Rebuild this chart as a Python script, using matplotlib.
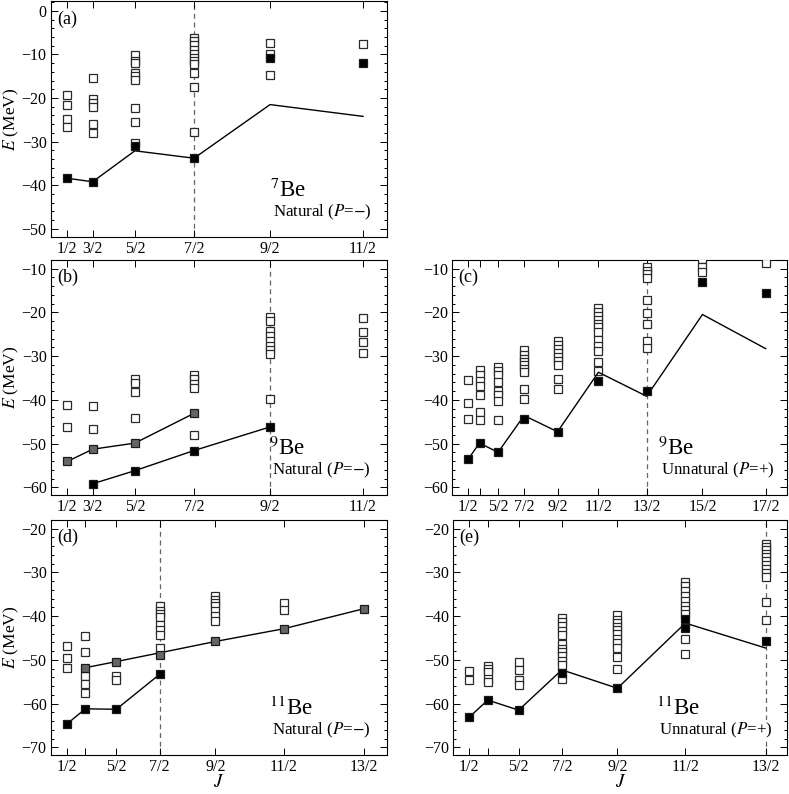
import numpy as np
import matplotlib
matplotlib.use('Agg')
import matplotlib.pyplot as plt
from matplotlib.ticker import MultipleLocator, NullLocator

plt.rcParams['font.family'] = ['Liberation Serif', 'DejaVu Serif']
plt.rcParams['mathtext.fontset'] = 'stix'

# ---- data (E in MeV), columns are spin J ----
# (a) 7Be natural parity
a_J = [0.5, 1.5, 2.5, 3.5, 4.5, 5.5]
a_open = [[-19.3, -21.6, -24.9, -26.6],
          [-15.5, -20.3, -21.2, -22.0, -26.0, -28.1],
          [-10.2, -11.5, -11.9, -14.2, -15.0, -15.9, -22.2, -25.6, -30.4],
          [-6.3, -6.9, -7.9, -8.9, -9.8, -10.7, -11.5, -12.1, -14.2, -17.4, -27.9],
          [-7.3, -9.8, -14.6],
          [-7.7]]
a_filled = [-38.4, -39.2, -31.1, -33.8, -10.7, -12.0]
a_line = [-38.4, -39.2, -32.1, -33.8, -21.5, -24.2]

# (b) 9Be natural parity
b_J = [0.5, 1.5, 2.5, 3.5, 4.5, 5.5]
b_open = [[-41.1, -46.2],
          [-41.5, -46.7],
          [-35.2, -36.2, -38.2, -44.2],
          [-34.3, -35.3, -36.3, -37.3, -48.0],
          [-21.0, -21.9, -24.2, -25.5, -26.6, -27.6, -28.6, -29.5, -39.9],
          [-21.3, -24.5, -26.8, -29.3]]
b_gray_J = [0.5, 1.5, 2.5, 3.5]
b_gray = [-54.1, -51.3, -49.9, -43.1]
b_black_J = [1.5, 2.5, 3.5, 4.5]
b_black = [-59.2, -56.2, -51.6, -46.2]

# (c) 9Be unnatural parity
c_J = [0.5, 1.5, 2.5, 3.5, 4.5, 5.5, 6.5, 7.5, 8.5]
c_open = [[-35.4, -40.8, -44.4],
          [-33.1, -34.4, -35.6, -36.9, -38.9, -42.8, -44.7],
          [-32.5, -33.5, -34.4, -36.0, -38.1, -39.0, -40.2, -44.7],
          [-28.7, -29.8, -30.7, -31.4, -32.1, -32.9, -33.7, -37.6, -39.8],
          [-26.5, -27.4, -28.3, -29.3, -30.2, -31.2, -32.1, -35.2, -37.5],
          [-19.0, -19.9, -20.8, -21.7, -22.6, -23.4, -24.5, -26.3, -27.6, -28.8, -31.4, -33.5],
          [-9.7, -10.5, -11.3, -12.1, -17.1, -20.2, -22.6, -26.6, -28.2],
          [-7.9, -9.7, -10.8],
          [-8.7]]
c_filled = [-53.5, -49.9, -52.0, -44.4, -47.3, -35.6, -37.9, -13.1, -15.6]
c_line = [-53.5, -49.9, -52.0, -43.6, -47.3, -33.7, -39.2, -20.5, -28.3]

# (d) 11Be natural parity
d_J = [0.5, 1.5, 2.5, 3.5, 4.5, 5.5]
d_open = [[-46.8, -49.6, -51.9],
          [-44.5, -48.1, -53.7, -55.6, -57.5],
          [-53.6, -54.7],
          [-37.8, -38.8, -39.5, -40.3, -42.0, -43.1, -44.3, -47.3],
          [-35.3, -36.3, -37.0, -37.8, -38.9, -39.9, -41.1],
          [-37.0, -38.5]]
d_gray_J = [1.5, 2.5, 3.5, 4.5, 5.5, 6.5]
d_gray = [-51.8, -50.4, -48.9, -45.6, -42.9, -38.3]
d_gray_line = [-51.8, -50.4, -48.4, -45.8, -42.9, -38.3]
d_black_J = [0.5, 1.5, 2.5, 3.5]
d_black = [-64.7, -61.2, -61.3, -53.3]

# (e) 11Be unnatural parity
e_J = [0.5, 1.5, 2.5, 3.5, 4.5, 5.5, 6.5]
e_open = [[-52.5, -54.6],
          [-51.3, -52.1, -52.8, -54.4, -55.1],
          [-50.5, -52.3, -54.7, -55.7],
          [-40.5, -41.4, -42.2, -43.4, -44.3, -46.4, -47.5, -48.2, -49.2, -50.2, -51.1, -54.4],
          [-39.8, -40.8, -41.6, -42.4, -43.1, -44.1, -45.2, -46.2, -47.2, -49.4, -52.1],
          [-32.2, -33.2, -34.2, -35.3, -36.5, -37.6, -38.5, -39.5, -45.2, -48.7],
          [-23.5, -24.3, -25.0, -25.8, -26.6, -27.5, -28.4, -29.2, -30.2, -31.1, -36.8, -40.8]]
e_filled_J = [0.5, 1.5, 2.5, 3.5, 4.5, 5.5, 5.5, 6.5]
e_filled = [-63.1, -59.2, -61.5, -52.9, -56.5, -40.6, -42.7, -45.8]
e_line = [-63.1, -59.2, -61.5, -52.3, -56.5, -41.6, -47.3]


# x axis is linear in J(J+1) = (J+1/2)^2 - 1/4
def fwd(j):
    s = np.asarray(j, float) + 0.5
    return np.sign(s) * s * s


def inv(x):
    x = np.asarray(x, float)
    return np.sign(x) * np.sqrt(np.abs(x)) - 0.5


def frac(j):
    return '%d/2' % int(round(2 * j))


def setup(ax, xlim, ylim, ticks, skip=(), ylabel=True, xlabel=False):
    ax.set_xscale('function', functions=(fwd, inv))
    ax.set_xlim(*xlim)
    ax.set_ylim(*ylim)
    ax.set_xticks(ticks)
    ax.set_xticklabels(['' if t in skip else frac(t) for t in ticks])
    ax.xaxis.set_minor_locator(NullLocator())
    ax.yaxis.set_major_locator(MultipleLocator(10))
    ax.yaxis.set_minor_locator(MultipleLocator(2))
    ax.tick_params(which='both', direction='in', top=True, right=True,
                   labelsize=11.5, width=0.7)
    ax.tick_params(which='major', length=5, pad=3)
    ax.tick_params(which='minor', length=2.5)
    for sp in ax.spines.values():
        sp.set_linewidth(0.8)
    if ylabel:
        ax.set_ylabel(r'$E$ (MeV)', fontsize=12.5)
        ax.yaxis.set_label_coords(-0.088, 0.5)
    if xlabel:
        ax.set_xlabel(r'$J$', fontsize=13.5, labelpad=-1)


def open_squares(ax, J, cols):
    xs = [j for j, vals in zip(J, cols) for _ in vals]
    ys = [v for vals in cols for v in vals]
    ax.plot(xs, ys, 's', mfc='white', mec='#2a2a2a', ms=5.4, mew=0.9, zorder=3)


def filled(ax, J, vals, face='black'):
    ax.plot(J, vals, 's', mfc=face, mec='#1a1a1a', ms=5.9, mew=0.9, zorder=5)


def line(ax, J, vals):
    ax.plot(J, vals, '-', color='black', lw=1.0, zorder=4)


def vdash(ax, j):
    ax.axvline(j, color='#666666', lw=0.9, ls=(0, (4, 3)), zorder=1)


def label(ax, tag, nucl, parity, x0, box=True):
    ax.text(0.019, 0.925, tag, transform=ax.transAxes, fontsize=13,
            ha='left', va='center')
    ax.text(x0, 0.196, nucl, transform=ax.transAxes, fontsize=16.5,
            ha='left', va='center', zorder=6)
    kw = {}
    if box:
        kw['bbox'] = dict(facecolor='white', edgecolor='none', pad=0.5)
    ax.text(x0 + 0.008, 0.103, parity, transform=ax.transAxes, fontsize=12.2,
            ha='left', va='center', zorder=6, **kw)


fig = plt.figure(figsize=(7.89, 7.94), dpi=100)

W, H = 0.4259, 0.2965
ax_a = fig.add_axes([0.0643, 0.7019, W, H])
ax_b = fig.add_axes([0.0643, 0.3766, W, H])
ax_c = fig.add_axes([0.5733, 0.3766, 0.4238, H])
ax_d = fig.add_axes([0.0643, 0.0491, W, H])
ax_e = fig.add_axes([0.5745, 0.0491, 0.4233, H])

# (a)
setup(ax_a, (-1.48, 5.73), (-51.8, 2.2), a_J)
vdash(ax_a, 3.5)
open_squares(ax_a, a_J, a_open)
line(ax_a, a_J, a_line)
filled(ax_a, a_J, a_filled)
label(ax_a, '(a)', r'$^{7}$Be', r'Natural ($P$=$-$)', 0.653)

# (b)
setup(ax_b, (-1.48, 5.73), (-61.76, -7.94), b_J)
vdash(ax_b, 4.5)
open_squares(ax_b, b_J, b_open)
line(ax_b, b_gray_J, b_gray)
line(ax_b, b_black_J, b_black)
filled(ax_b, b_gray_J, b_gray, face='#666666')
filled(ax_b, b_black_J, b_black)
label(ax_b, '(b)', r'$^{9}$Be', r'Natural ($P$=$-$)', 0.65, box=False)

# (c)
setup(ax_c, (-2.32, 8.81), (-61.76, -7.94), c_J, skip=(1.5,), ylabel=False)
vdash(ax_c, 6.5)
open_squares(ax_c, c_J, c_open)
line(ax_c, c_J, c_line)
filled(ax_c, c_J, c_filled)
label(ax_c, '(c)', r'$^{9}$Be', r'Unnatural ($P$=+)', 0.615)

# (d)
setup(ax_d, (-1.76, 6.756), (-71.76, -17.94), [0.5, 1.5, 2.5, 3.5, 4.5, 5.5, 6.5],
      skip=(1.5,), xlabel=True)
vdash(ax_d, 3.5)
open_squares(ax_d, d_J, d_open)
line(ax_d, d_gray_J, d_gray_line)
line(ax_d, d_black_J, d_black)
filled(ax_d, d_gray_J, d_gray, face='#666666')
filled(ax_d, d_black_J, d_black)
label(ax_d, '(d)', r'$^{11}$Be', r'Natural ($P$=$-$)', 0.65)

# (e)
setup(ax_e, (-1.76, 6.746), (-71.76, -17.94), e_J, skip=(1.5,),
      ylabel=False, xlabel=True)
vdash(ax_e, 6.5)
open_squares(ax_e, e_J, e_open)
line(ax_e, e_J, e_line)
filled(ax_e, e_filled_J, e_filled)
label(ax_e, '(e)', r'$^{11}$Be', r'Unnatural ($P$=+)', 0.607)

fig.savefig('out.png', dpi=100)
